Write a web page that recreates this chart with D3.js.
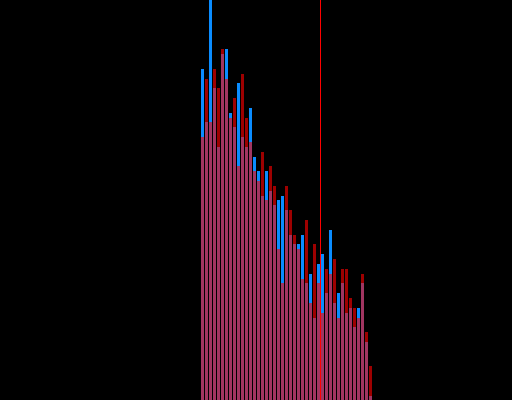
<!DOCTYPE html>
<html>
<head>
<meta charset="utf-8">
<script src="https://cdn.jsdelivr.net/npm/d3@7"></script>
<style>
  html, body { margin: 0; padding: 0; background: #000; }
  #chart { width: 512px; height: 400px; }
</style>
</head>
<body>
<div id="chart"></div>
<script>
// bin start values (each bin is 1 unit wide)
const binStarts = d3.range(50, 93);
const blueCounts = [331, 278, 410, 312, 253, 346, 351, 287, 273, 317, 263, 253, 292, 243, 229, 204, 229, 209, 195, 200, 204, 190,
  165, 156, 156, 165, 117, 126, 82, 136, 146, 107, 170, 97, 107, 117, 87, 92, 73, 92, 117, 58, 4];
const redCounts = [263, 321, 278, 331, 312, 351, 321, 282, 302, 234, 326, 282, 258, 229, 219, 248, 200, 234, 214, 151, 117, 214,
  190, 165, 151, 121, 180, 97, 156, 117, 87, 131, 126, 141, 82, 131, 131, 102, 92, 82, 126, 68, 34];
const markerValue = 80;

document.addEventListener('DOMContentLoaded', function () {
  const width = 512;
  const height = 400;

  const svg = d3.select("#chart").append("svg")
    .attr("width", width)
    .attr("height", height)
    .style("display", "block")
    .style("background", "#000");

  const x = d3.scaleLinear().domain([0, 128]).range([0, width]);
  const y = d3.scaleLinear().domain([0, 400]).range([height, 0]);

  const bins = binStarts.map((x0, i) => ({ x0, x1: x0 + 1, blue: blueCounts[i], red: redCounts[i] }));

  svg.append("g").selectAll("rect")
    .data(bins)
    .join("rect")
    .attr("x", d => x(d.x0) + 1)
    .attr("y", d => y(d.blue))
    .attr("width", d => x(d.x1) - x(d.x0) - 1)
    .attr("height", d => height - y(d.blue))
    .attr("fill", "#0a8cff");

  svg.append("g").selectAll("rect")
    .data(bins)
    .join("rect")
    .attr("x", d => x(d.x0) + 1)
    .attr("y", d => y(d.red))
    .attr("width", d => x(d.x1) - x(d.x0) - 1)
    .attr("height", d => height - y(d.red))
    .attr("fill", "red")
    .attr("fill-opacity", 0.62);

  svg.append("line")
    .attr("x1", x(markerValue) + 0.5)
    .attr("x2", x(markerValue) + 0.5)
    .attr("y1", 0)
    .attr("y2", height)
    .attr("stroke", "red")
    .attr("stroke-width", 1);
});
</script>
</body>
</html>
